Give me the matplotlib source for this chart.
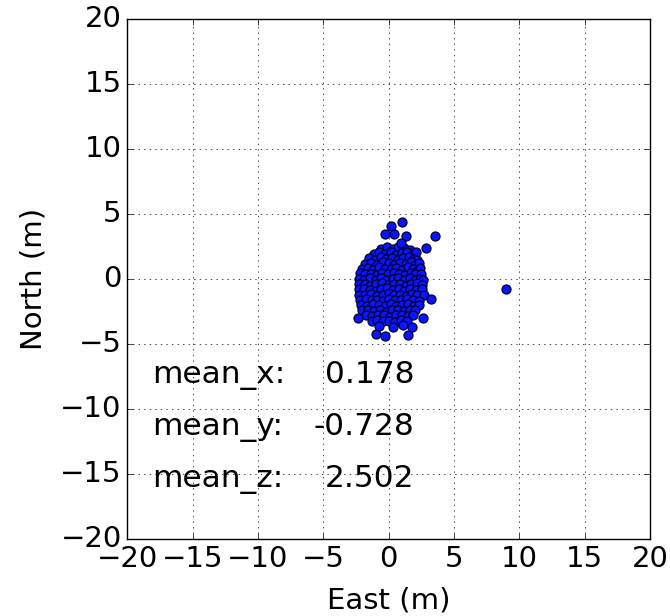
import numpy as np
import matplotlib.pyplot as plt

plt.style.use('classic')

# horizontal / vertical position fixes (m)
east = [
    -0.55, -0.1, 0.3, 0.75, 1.2, 1.65,
    -1.15, -0.7, -0.3, 0.15, 0.55, 1.0, 1.4, 1.85, 2.1,
    -1.5, -1.05, -0.6, -0.2, 0.25, 0.7, 1.1, 1.55, 1.95, 2.2,
    -1.8, -1.35, -0.9, -0.45, 0.0, 0.45, 0.85, 1.3, 1.7, 2.05, 2.3,
    -2.05, -1.6, -1.2, -0.75, -0.3, 0.15, 0.6, 1.0, 1.45, 1.85, 2.2, 2.4,
    -2.2, -1.8, -1.35, -0.9, -0.5, -0.05, 0.4, 0.8, 1.25, 1.7, 2.05, 2.45,
    -2.3, -1.85, -1.45, -1.0, -0.6, -0.15, 0.3, 0.7, 1.15, 1.6, 2.0, 2.4, 2.65,
    -2.25, -1.8, -1.4, -0.95, -0.5, -0.05, 0.4, 0.85, 1.3, 1.75, 2.15, 2.55,
    -2.3, -1.9, -1.45, -1.0, -0.55, -0.1, 0.35, 0.8, 1.2, 1.65, 2.1, 2.55,
    -2.25, -1.8, -1.35, -0.9, -0.45, 0.0, 0.45, 0.9, 1.35, 1.8, 2.2, 2.7,
    -2.2, -1.75, -1.3, -0.85, -0.4, 0.05, 0.5, 0.95, 1.4, 1.85, 2.3,
    -2.1, -1.65, -1.2, -0.75, -0.3, 0.15, 0.6, 1.05, 1.5, 1.95, 2.35,
    -2.0, -1.55, -1.1, -0.65, -0.2, 0.25, 0.7, 1.15, 1.6, 2.0,
    -1.7, -1.25, -0.8, -0.35, 0.1, 0.55, 1.0, 1.45, 1.9,
    -1.3, -0.85, -0.4, 0.05, 0.5, 0.95, 1.4,
    -0.7, 0.3, 1.1,
    1.02, 0.15, -0.25, 0.41, 1.35, 3.54, 0.92, 2.83,
    -2.35, 3.21, -0.99, -0.25, 1.48, 1.81, 2.63, 9.0,
]
north = [
    2.35, 2.5, 2.3, 2.45, 2.4, 2.25,
    1.95, 2.1, 1.9, 2.05, 1.85, 2.0, 2.1, 1.9, 2.05,
    1.6, 1.5, 1.7, 1.55, 1.65, 1.5, 1.6, 1.7, 1.55, 1.45,
    1.15, 1.25, 1.1, 1.3, 1.2, 1.05, 1.25, 1.15, 1.3, 1.1, 1.2,
    0.75, 0.85, 0.7, 0.9, 0.8, 0.75, 0.85, 0.7, 0.9, 0.8, 0.65, 0.85,
    0.45, 0.35, 0.4, 0.3, 0.5, 0.35, 0.45, 0.4, 0.3, 0.5, 0.4, 0.35,
    0.0, -0.1, 0.05, -0.05, 0.1, -0.05, 0.0, 0.1, -0.1, 0.05, -0.05, 0.0, -0.1,
    -0.4, -0.35, -0.5, -0.4, -0.3, -0.45, -0.4, -0.35, -0.5, -0.4, -0.3, -0.45,
    -0.8, -0.75, -0.85, -0.9, -0.8, -0.7, -0.85, -0.8, -0.9, -0.75, -0.85, -0.8,
    -1.2, -1.25, -1.15, -1.3, -1.2, -1.1, -1.25, -1.2, -1.3, -1.15, -1.25, -1.2,
    -1.6, -1.55, -1.65, -1.6, -1.7, -1.55, -1.6, -1.65, -1.55, -1.6, -1.7,
    -2.0, -2.05, -1.95, -2.0, -2.1, -1.95, -2.05, -2.0, -1.95, -2.1, -2.0,
    -2.4, -2.35, -2.45, -2.4, -2.5, -2.35, -2.4, -2.45, -2.35, -2.4,
    -2.8, -2.85, -2.75, -2.8, -2.9, -2.8, -2.75, -2.85, -2.8,
    -3.2, -3.15, -3.25, -3.2, -3.3, -3.15, -3.2,
    -3.6, -3.7, -3.55,
    4.41, 4.08, 3.44, 3.44, 3.31, 3.31, 2.79, 2.41,
    -3.02, -1.54, -4.25, -4.36, -4.31, -3.67, -3.02, -0.8,
]

stat_names = ['mean_x:', 'mean_y:', 'mean_z:']
stat_values = [0.178, -0.728, 2.502]

fig = plt.figure(figsize=(6.7, 6.16), dpi=100, facecolor='white')
ax = fig.add_axes([0.19, 0.125, 0.78, 0.844])

ax.scatter(east, north, s=42, c='#0a14ff', edgecolors='#000030', linewidths=0.9)

ax.set_xlim(-20, 20)
ax.set_ylim(-20, 20)
ax.set_xticks(np.arange(-20, 21, 5))
ax.set_yticks(np.arange(-20, 21, 5))
ax.grid(True, color='k', linestyle=':')
ax.tick_params(labelsize=21)
ax.set_xlabel('East (m)', fontsize=21, labelpad=10)
ax.set_ylabel('North (m)', fontsize=21, labelpad=9)

for i in range(3):
    ybase = -8 - 4 * i
    ax.text(-18.1, ybase, stat_names[i], fontsize=22.5, va='baseline', ha='left')
    ax.text(2.0, ybase, '%.3f' % stat_values[i], fontsize=22.5, va='baseline', ha='right')

fig.savefig('out.png', dpi=100, facecolor='white')
